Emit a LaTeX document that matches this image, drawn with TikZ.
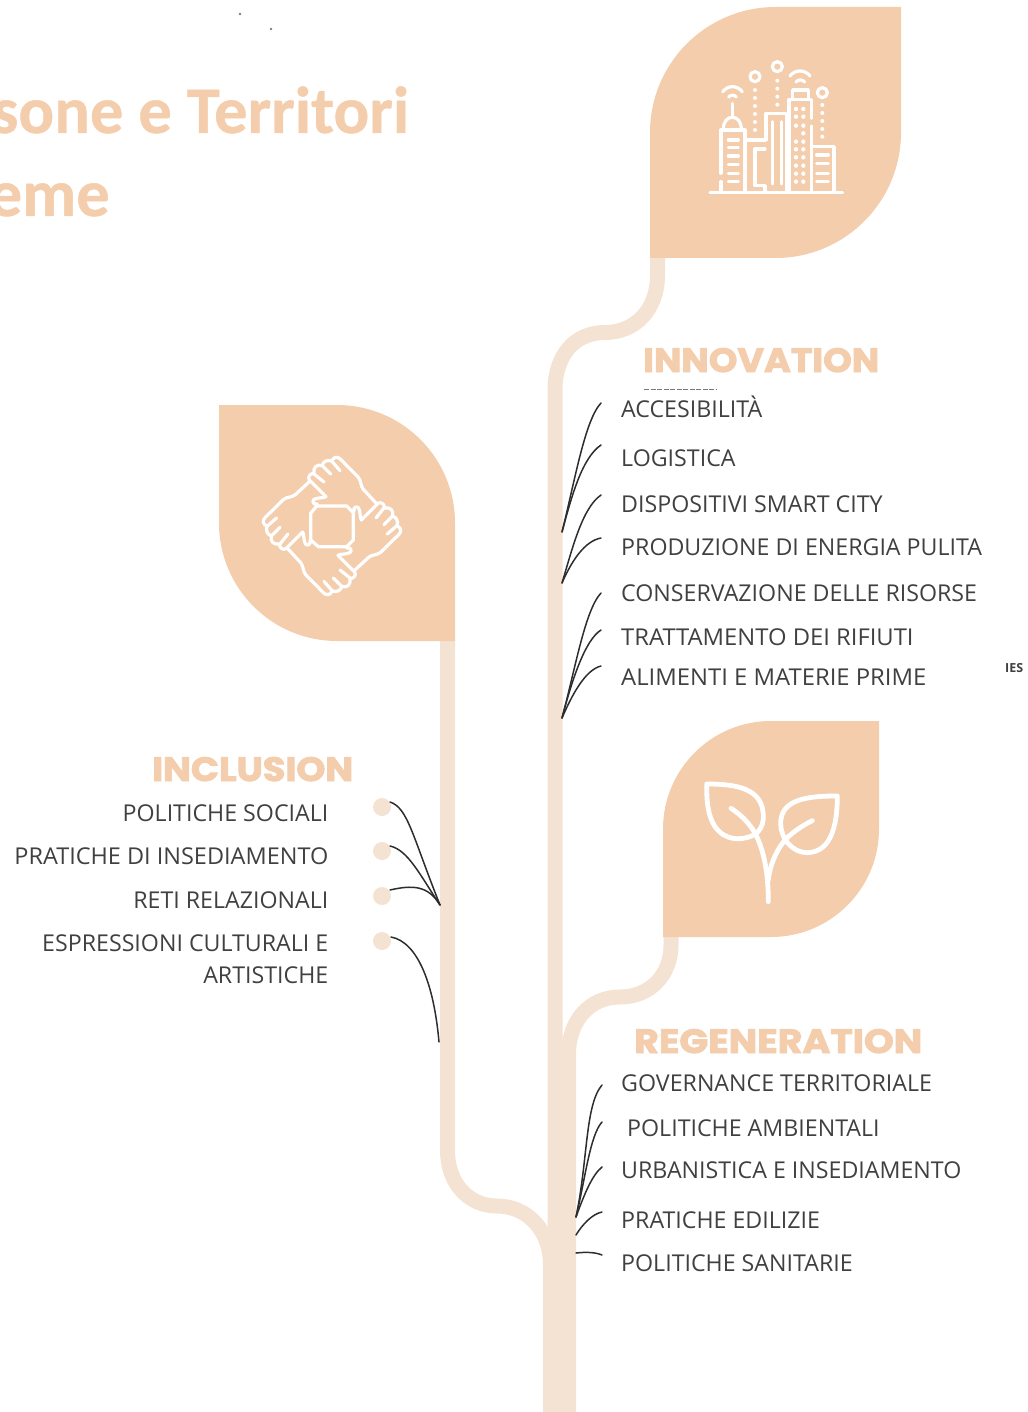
\documentclass[tikz,border=0pt]{standalone}
\usepackage{fontspec}
\setmainfont{Open Sans}
\newfontfamily\titlefont{Carlito}[BoldFont=Carlito Bold,BoldFeatures={FakeBold=0.6}]
\newfontfamily\headfont{Poppins}[BoldFont=Poppins Bold,BoldFeatures={FakeBold=2.5}]
\definecolor{leaf}{HTML}{F3CDAC}
\definecolor{stem}{HTML}{F4E3D3}
\definecolor{ink}{HTML}{404040}
\tikzset{
  leafshape/.style={fill=leaf,draw=none},
  stemline/.style={draw=stem,line width=15pt},
  twig/.style={draw=ink!70!black,line width=1.5pt,line cap=round},
  label/.style={inner sep=0pt,font=\fontsize{23.2}{23.2}\selectfont,text=ink},
  lblr/.style={label,anchor=base west},
  lbll/.style={label,anchor=base east},
  headtext/.style={inner sep=0pt,anchor=base west,text=leaf,font=\fontsize{32}{32}\headfont\bfseries\selectfont},
  titletext/.style={inner sep=0pt,anchor=base east,text=leaf,font=\fontsize{66.5}{66.5}\titlefont\bfseries\selectfont},
  bud/.style={circle,fill=stem,draw=none,minimum size=18pt,inner sep=0pt},
  icon/.style={draw=white,line width=3.2pt,line cap=round,line join=round},
  plantline/.style={draw=white,line width=4.8pt,line cap=round,line join=round},
  icondot/.style={fill=white,draw=none},
}
\begin{document}
\begin{tikzpicture}[x=1pt,y=-1pt]
\useasboundingbox (0,0) rectangle (1027,1412);
\clip (0,0) rectangle (1027,1412);
% stems
\coordinate (topleafbase) at (657.5,255);
\coordinate (regleafbase) at (671,935);
\coordinate (incleafbase) at (447.5,638);
\path[stemline,fill=none] (topleafbase) -- (657.5,275) .. controls (657.5,310) and (635,332.5) .. (605,332.5) .. controls (575,332.5) and (555,355) .. (555,390) -- (555,1412);
\path[stemline,fill=none] (regleafbase) -- (671,945) .. controls (671,975) and (650,997) .. (620,997) .. controls (590,997) and (568.5,1020) .. (568.5,1055) -- (568.5,1412);
\path[stemline,fill=none] (incleafbase) -- (447.5,1150) .. controls (447.5,1185) and (470,1206) .. (497,1206) .. controls (527,1206) and (550.5,1230) .. (550.5,1265) -- (550.5,1412);
% leaves
\path[leafshape] (650,258) -- (650,132.5) .. controls (650,63.2) and (706.2,7) .. (775.5,7) -- (901,7) -- (901,132.5) .. controls (901,201.8) and (844.8,258) .. (775.5,258) -- cycle;
\path[leafshape] (663,937) -- (663,829) .. controls (663,769.4) and (711.4,721) .. (771,721) -- (879,721) -- (879,829) .. controls (879,888.6) and (830.6,937) .. (771,937) -- cycle;
\path[leafshape] (219,405) -- (337,405) .. controls (402.2,405) and (455,457.8) .. (455,523) -- (455,641) -- (337,641) .. controls (271.8,641) and (219,588.2) .. (219,523) -- cycle;
% city icon
\begin{scope}[shift={(640,0)},x=0.3333pt,y=-0.3333pt]
\draw[icon] (210,577) -- (608,577);
\draw[icon] (243,520) -- (243,390) -- (315,390) -- (315,577);
\draw[icon] (243,545) -- (243,577);
\draw[icon] (250,388) .. controls (250,365) and (262,352) .. (277,352) .. controls (292,352) and (304,365) .. (304,388);
\draw[icon] (277,310) -- (277,350);
\draw[icon] (248,275) .. controls (265,255) and (290,255) .. (307,275);
\draw[icon] (266,291) .. controls (272,284) and (283,284) .. (289,291);
\foreach \yy in {420,443,468,494,520,545} \draw[icon] (265,\yy) -- (295,\yy);
\draw[icon] (315,420) -- (375,420);
\draw[icon] (375,447) -- (345,447) -- (345,557) -- (375,557) -- (375,577);
\draw[icon] (378,420) -- (378,340) -- (440,340) -- (440,577);
\draw[icon] (398,365) -- (398,552);
\draw[icon] (425,365) -- (425,552);
\draw[icon] (447,577) -- (447,298) -- (515,298) -- (515,355);
\draw[icon] (515,378) -- (515,577);
\draw[icon] (458,298) -- (458,270) -- (505,270) -- (505,298);
\draw[icon] (450,228) .. controls (465,208) and (495,208) .. (510,228);
\draw[icon] (468,246) .. controls (474,238) and (488,238) .. (494,246);
\foreach \yy in {327,350,377,425,448,472,497,521,545} {
  \fill[icondot] (468,\yy) circle[radius=2.2pt];
  \fill[icondot] (490,\yy) circle[radius=2.2pt];
}
\fill[icondot] (490,400) circle[radius=2.2pt];
\draw[icon] (520,440) -- (582,440) -- (582,577);
\foreach \yy in {465,490,520,545} \draw[icon] (530,\yy) -- (565,\yy);
\draw[icon] (345,230) circle[radius=5pt];
\draw[icon] (412,200) circle[radius=5pt];
\draw[icon] (547,278) circle[radius=5pt];
\foreach \yy in {270,294,318,342,366,390} \fill[icondot] (345,\yy) circle[radius=2pt];
\foreach \yy in {242,266,290,314} \fill[icondot] (412,\yy) circle[radius=2pt];
\foreach \yy in {315,339,363,387,410} \fill[icondot] (547,\yy) circle[radius=2pt];
\end{scope}
% hands icon
\begin{scope}[shift={(210,400)},x=0.3333pt,y=-0.3333pt]
\draw[icon] (320,318) -- (410,318) -- (430,338) -- (430,420) -- (410,440) -- (325,440) -- (302,420) -- (302,340) -- cycle;
\foreach \ang in {0,90,180,270} {
\begin{scope}[rotate around={\ang:(366,378)}]
\draw[icon] (497,308) -- (460,268) .. controls (450,255) and (455,245) .. (445,232) -- (392,178) .. controls (382,168) and (372,170) .. (365,183) .. controls (350,178) and (340,185) .. (336,197) .. controls (320,190) and (308,205) .. (312,220) .. controls (300,220) and (292,232) .. (298,240) -- (348,290) .. controls (340,295) and (325,292) .. (312,298) .. controls (305,305) and (310,315) .. (322,312);
\draw[icon] (365,183) -- (390,212);
\draw[icon] (338,198) -- (362,222);
\draw[icon] (312,222) -- (342,246);
\end{scope}
}
\end{scope}
% plant icon
\begin{scope}[shift={(650,710)},x=0.3333pt,y=-0.3333pt]
\draw[plantline] (170,222) .. controls (260,222) and (340,235) .. (340,320) .. controls (340,350) and (325,370) .. (305,378) .. controls (270,392) and (225,392) .. (195,350) .. controls (172,315) and (170,270) .. (170,222) -- cycle;
\draw[plantline] (562,258) .. controls (480,258) and (392,265) .. (392,340) .. controls (392,380) and (420,425) .. (470,428) .. controls (520,428) and (562,390) .. (562,258) -- cycle;
\draw[plantline] (355,575) .. controls (355,500) and (345,430) .. (318,375) .. controls (300,340) and (270,312) .. (243,295);
\draw[plantline] (355,510) .. controls (360,460) and (385,410) .. (410,385) .. controls (430,365) and (460,345) .. (487,332);
\end{scope}
% title
\node[titletext] (title1) at (409.5,133) {sone e Territori};
\node[titletext] (title2) at (110,216) {eme};
% headings
\node[headtext] (hinn) at (643,372) {\resizebox{236pt}{24pt}{INNOVATION}};
\node[headtext] (hinc) at (152,781) {\resizebox{201pt}{24pt}{INCLUSION}};
\node[headtext] (hreg) at (634,1053) {\resizebox{288pt}{24pt}{REGENERATION}};
% innovation labels
\node[lblr] (a1) at (621,417) {ACCESIBILITÀ};
\node[lblr] (a2) at (621,466) {LOGISTICA};
\node[lblr] (a3) at (621,512) {DISPOSITIVI SMART CITY};
\node[lblr] (a4) at (621,555) {PRODUZIONE DI ENERGIA PULITA};
\node[lblr] (a5) at (621,601) {CONSERVAZIONE DELLE RISORSE};
\node[lblr] (a6) at (621,645) {\scalebox{1.026}[1]{TRATTAMENTO DEI RIFIUTI}};
\node[lblr] (a7) at (621,685) {\scalebox{1.028}[1]{ALIMENTI E MATERIE PRIME}};
\node[inner sep=0pt,anchor=base west,font=\fontsize{12.5}{12.5}\selectfont\bfseries,text=ink] (stray) at (1005,672) {IES};
% inclusion labels
\node[lbll] (b1) at (328.5,821) {POLITICHE SOCIALI};
\node[lbll] (b2) at (328.5,864) {\scalebox{1.012}[1]{PRATICHE DI INSEDIAMENTO}};
\node[lbll] (b3) at (328.5,908) {RETI RELAZIONALI};
\node[lbll] (b4) at (328.5,951) {ESPRESSIONI CULTURALI E};
\node[lbll] (b5) at (328.5,983) {ARTISTICHE};
% regeneration labels
\node[lblr] (c1) at (621,1091) {GOVERNANCE TERRITORIALE};
\node[lblr] (c2) at (627,1136) {POLITICHE AMBIENTALI};
\node[lblr] (c3) at (621,1178) {URBANISTICA E INSEDIAMENTO};
\node[lblr] (c4) at (621,1228) {PRATICHE EDILIZIE};
\node[lblr] (c5) at (621,1271) {POLITICHE SANITARIE};
% buds
\node[bud] (d1) at (382,807) {};
\node[bud] (d2) at (382,851) {};
\node[bud] (d3) at (382,896) {};
\node[bud] (d4) at (382,941) {};
% twig junctions
\coordinate (j1) at (562,532);
\coordinate (j2) at (562,583);
\coordinate (j3) at (562,718);
\coordinate (k1) at (440,905);
\coordinate (k2) at (439,1042);
\coordinate (m1) at (576,1217);
\coordinate (m2) at (576,1235);
\coordinate (m3) at (576,1253);
% innovation twigs
\draw[twig] (j1) .. controls (575,480) and (585,420) .. (601,403);
\draw[twig] (j1) .. controls (572,495) and (582,458) .. (601,445);
\draw[twig] (j2) .. controls (572,550) and (582,508) .. (601,495);
\draw[twig] (j2) .. controls (572,560) and (585,541) .. (601,538);
\draw[twig] (j3) .. controls (575,670) and (585,610) .. (601,593);
\draw[twig] (j3) .. controls (572,680) and (585,640) .. (601,630);
\draw[twig] (j3) .. controls (572,695) and (585,670) .. (601,666);
% inclusion twigs
\draw[twig] (390,802) .. controls (408,808) and (412,835) .. (k1);
\draw[twig] (390,846) .. controls (408,850) and (420,875) .. (k1);
\draw[twig] (390,890) .. controls (412,885) and (428,885) .. (k1);
\draw[twig] (391,937) .. controls (418,942) and (434,985) .. (k2);
% regeneration twigs
\draw[twig] (m1) .. controls (588,1160) and (585,1105) .. (602,1085);
\draw[twig] (m1) .. controls (585,1180) and (590,1135) .. (602,1122);
\draw[twig] (m1) .. controls (584,1195) and (592,1175) .. (602,1167);
\draw[twig] (m2) .. controls (582,1225) and (592,1214) .. (602,1212);
\draw[twig] (m3) .. controls (585,1252) and (595,1252) .. (602,1255);
% clipped scraps
\draw[ink!70,line width=1pt,dash pattern=on 5pt off 1.5pt] (644,389.5) -- (717,389.5);
\fill[gray] (240,14) circle[radius=1.3pt];
\fill[gray] (271,29) circle[radius=1.3pt];
\end{tikzpicture}
\end{document}
